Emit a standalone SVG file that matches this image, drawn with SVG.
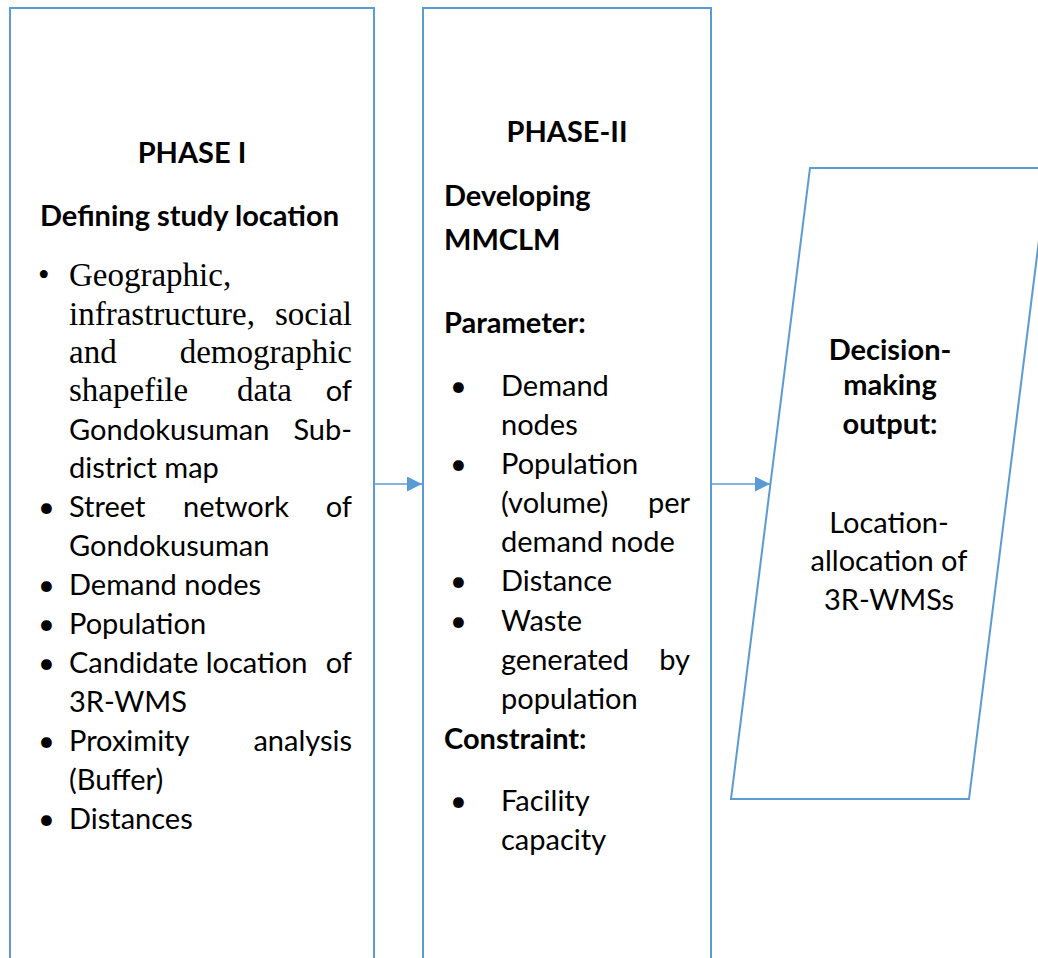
<svg xmlns="http://www.w3.org/2000/svg" width="1038" height="958" viewBox="0 0 1038 958">
<defs>
<style>
.box{fill:#fff;stroke:#5B9BD5;stroke-width:2}
.con{stroke:#5B9BD5;stroke-width:1.3;fill:none}
.t{font-family:Lato,"Liberation Sans",sans-serif;font-size:29px;fill:#000}
.b{font-family:Lato,"Liberation Sans",sans-serif;font-size:29px;font-weight:bold;fill:#000}
.s{font-family:"Liberation Serif","Times New Roman",serif;font-size:33px;fill:#000}
.m{text-anchor:middle}
.e{text-anchor:end}
</style>
<marker id="ah" markerUnits="userSpaceOnUse" viewBox="0 0 15 15" refX="15" refY="7.5" markerWidth="15" markerHeight="15" orient="auto">
<path d="M0,0 L15,7.5 L0,15 z" fill="#5B9BD5"/>
</marker>
</defs>
<rect width="1038" height="958" fill="#fff"/>
<g id="connectors">
<line class="con" x1="374" y1="484" x2="422" y2="484" marker-end="url(#ah)"/>
<line class="con" x1="711" y1="484" x2="770" y2="484" marker-end="url(#ah)"/>
</g>
<g id="phase1">
<rect class="box" x="10" y="8" width="364" height="1000"/>
<text class="b m" x="192" y="163">PHASE I</text>
<text class="b" x="40" y="226">Defining study location</text>
<text class="s" x="38" y="286">•</text>
<text class="s" x="69" y="286">Geographic,</text>
<text class="s" x="69" y="325">infrastructure,</text>
<text class="s e" x="352" y="325">social</text>
<text class="s" x="69" y="363">and</text>
<text class="s e" x="352" y="363">demographic</text>
<text class="s" x="69" y="401">shapefile</text>
<text class="s" x="237" y="401">data</text>
<text class="t e" x="352" y="401">of</text>
<text class="t" x="69" y="440">Gondokusuman</text>
<text class="t e" x="352" y="440">Sub-</text>
<text class="t" x="69" y="478">district map</text>
<text class="t" x="38" y="517">•</text>
<text class="t" x="69" y="517">Street</text>
<text class="t" x="183" y="517">network</text>
<text class="t e" x="352" y="517">of</text>
<text class="t" x="69" y="556">Gondokusuman</text>
<text class="t" x="38" y="595">•</text>
<text class="t" x="69" y="595">Demand nodes</text>
<text class="t" x="38" y="634">•</text>
<text class="t" x="69" y="634">Population</text>
<text class="t" x="38" y="673">•</text>
<text class="t" x="69" y="673">Candidate location</text>
<text class="t e" x="352" y="673">of</text>
<text class="t" x="69" y="712">3R-WMS</text>
<text class="t" x="38" y="751">•</text>
<text class="t" x="69" y="751">Proximity</text>
<text class="t e" x="352" y="751">analysis</text>
<text class="t" x="69" y="790">(Buffer)</text>
<text class="t" x="38" y="829">•</text>
<text class="t" x="69" y="829">Distances</text>
</g>
<g id="phase2">
<rect class="box" x="423" y="8" width="288" height="1000"/>
<text class="b m" x="567" y="142">PHASE-II</text>
<text class="b" x="444" y="206">Developing</text>
<text class="b" x="444" y="250">MMCLM</text>
<text class="b" x="444" y="333">Parameter:</text>
<text class="t" x="450" y="396">•</text>
<text class="t" x="501" y="396">Demand</text>
<text class="t" x="501" y="435">nodes</text>
<text class="t" x="450" y="474">•</text>
<text class="t" x="501" y="474">Population</text>
<text class="t" x="501" y="513">(volume)</text>
<text class="t e" x="690" y="513">per</text>
<text class="t" x="501" y="552">demand node</text>
<text class="t" x="450" y="591">•</text>
<text class="t" x="501" y="591">Distance</text>
<text class="t" x="450" y="631">•</text>
<text class="t" x="501" y="631">Waste</text>
<text class="t" x="501" y="670">generated</text>
<text class="t e" x="690" y="670">by</text>
<text class="t" x="501" y="709">population</text>
<text class="b" x="444" y="749">Constraint:</text>
<text class="t" x="450" y="811">•</text>
<text class="t" x="501" y="811">Facility</text>
<text class="t" x="501" y="850">capacity</text>
</g>
<g id="output">
<polygon class="box" points="810,168 1048,168 969,799 731,799"/>
<text class="b m" x="890" y="360">Decision-</text>
<text class="b m" x="890" y="395">making</text>
<text class="b m" x="890" y="434">output:</text>
<text class="t m" x="889" y="533">Location-</text>
<text class="t m" x="889" y="571">allocation of</text>
<text class="t m" x="889" y="610">3R-WMSs</text>
</g>
</svg>
